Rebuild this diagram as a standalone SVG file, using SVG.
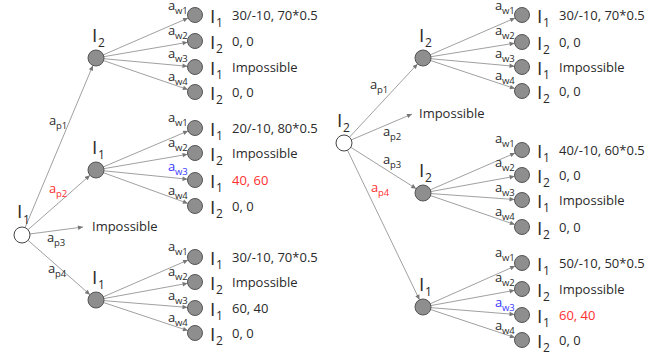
<svg xmlns="http://www.w3.org/2000/svg" width="670" height="358" viewBox="0 0 670 358">
<defs>
<marker id="ah" viewBox="0 0 10 10" refX="10" refY="5" markerWidth="6" markerHeight="5" markerUnits="userSpaceOnUse" orient="auto"><path d="M0,0.5 L10,5 L0,9.5 z" fill="#777"/></marker>
<style>
.ln{stroke:#888;stroke-width:0.8;fill:none;marker-end:url(#ah)}
.nd{fill:#8e8e8e;stroke:#555;stroke-width:1}
.rt{fill:#fff;stroke:#444;stroke-width:1}
text{font-family:"Open Sans","Noto Sans",sans-serif;fill:#2a2a2a}
.v{font-size:13px}
.I{font-size:19px}
.s{font-size:12px}
.a{font-size:13px}
.as{font-size:9.5px}
.red{fill:#ff3030}
.blue{fill:#3535ff}
</style>
</defs>
<g id="connectors">
<line class="ln" x1="22" y1="235" x2="92.9" y2="65.4"/>
<line class="ln" x1="22" y1="235" x2="90" y2="175.3"/>
<line class="ln" x1="22" y1="235" x2="83" y2="227"/>
<line class="ln" x1="22" y1="235" x2="90" y2="294.7"/>
<line class="ln" x1="96" y1="58" x2="188.1" y2="18"/>
<line class="ln" x1="96" y1="58" x2="187.6" y2="42.3"/>
<line class="ln" x1="96" y1="58" x2="187.5" y2="66.3"/>
<line class="ln" x1="96" y1="58" x2="187.9" y2="89.6"/>
<line class="ln" x1="96" y1="170" x2="188.1" y2="130.9"/>
<line class="ln" x1="96" y1="170" x2="187.6" y2="154.3"/>
<line class="ln" x1="96" y1="170" x2="187.5" y2="179.2"/>
<line class="ln" x1="96" y1="170" x2="187.9" y2="203.4"/>
<line class="ln" x1="96" y1="300" x2="188.1" y2="260"/>
<line class="ln" x1="96" y1="300" x2="187.6" y2="283.3"/>
<line class="ln" x1="96" y1="300" x2="187.5" y2="307.4"/>
<line class="ln" x1="96" y1="300" x2="187.9" y2="330.6"/>
<line class="ln" x1="344" y1="143" x2="417.6" y2="63.9"/>
<line class="ln" x1="344" y1="143" x2="412" y2="114"/>
<line class="ln" x1="344" y1="143" x2="416.2" y2="188.7"/>
<line class="ln" x1="344" y1="143" x2="419.5" y2="299.8"/>
<line class="ln" x1="423" y1="58" x2="515.1" y2="18"/>
<line class="ln" x1="423" y1="58" x2="514.6" y2="43.2"/>
<line class="ln" x1="423" y1="58" x2="514.5" y2="66.3"/>
<line class="ln" x1="423" y1="58" x2="514.9" y2="88.6"/>
<line class="ln" x1="423" y1="193" x2="515.1" y2="153"/>
<line class="ln" x1="423" y1="193" x2="514.6" y2="176.3"/>
<line class="ln" x1="423" y1="193" x2="514.5" y2="199.5"/>
<line class="ln" x1="423" y1="193" x2="514.9" y2="224.6"/>
<line class="ln" x1="423" y1="307" x2="515.1" y2="266"/>
<line class="ln" x1="423" y1="307" x2="514.6" y2="290.3"/>
<line class="ln" x1="423" y1="307" x2="514.5" y2="314.4"/>
<line class="ln" x1="423" y1="307" x2="514.9" y2="337.6"/>
<text class="a" x="49" y="125">a</text><text class="as" x="56" y="129">p1</text>
<text class="a red" x="49" y="193">a</text><text class="as red" x="56" y="197">p2</text>
<text class="a" x="47" y="242">a</text><text class="as" x="54" y="246">p3</text>
<text class="a" x="48" y="273">a</text><text class="as" x="55" y="277">p4</text>
<text class="a" x="370" y="89">a</text><text class="as" x="377" y="93">p1</text>
<text class="a" x="383" y="136">a</text><text class="as" x="390" y="140">p2</text>
<text class="a" x="383" y="164">a</text><text class="as" x="390" y="168">p3</text>
<text class="a red" x="371" y="192">a</text><text class="as red" x="378" y="196">p4</text>
<text class="a" x="168" y="10">a</text><text class="as" x="175" y="14">w1</text>
<text class="a" x="168" y="35">a</text><text class="as" x="175" y="39">w2</text>
<text class="a" x="168" y="58">a</text><text class="as" x="175" y="62">w3</text>
<text class="a" x="168" y="81">a</text><text class="as" x="175" y="85">w4</text>
<text class="a" x="168" y="122">a</text><text class="as" x="175" y="126">w1</text>
<text class="a" x="168" y="147">a</text><text class="as" x="175" y="151">w2</text>
<text class="a blue" x="168" y="171">a</text><text class="as blue" x="175" y="175">w3</text>
<text class="a" x="168" y="195">a</text><text class="as" x="175" y="199">w4</text>
<text class="a" x="168" y="251">a</text><text class="as" x="175" y="255">w1</text>
<text class="a" x="168" y="276">a</text><text class="as" x="175" y="280">w2</text>
<text class="a" x="168" y="300">a</text><text class="as" x="175" y="304">w3</text>
<text class="a" x="168" y="322">a</text><text class="as" x="175" y="326">w4</text>
<text class="a" x="495" y="10">a</text><text class="as" x="502" y="14">w1</text>
<text class="a" x="495" y="35">a</text><text class="as" x="502" y="39">w2</text>
<text class="a" x="495" y="58">a</text><text class="as" x="502" y="62">w3</text>
<text class="a" x="495" y="80">a</text><text class="as" x="502" y="84">w4</text>
<text class="a" x="495" y="143">a</text><text class="as" x="502" y="147">w1</text>
<text class="a" x="495" y="167">a</text><text class="as" x="502" y="171">w2</text>
<text class="a" x="495" y="192">a</text><text class="as" x="502" y="196">w3</text>
<text class="a" x="495" y="216">a</text><text class="as" x="502" y="220">w4</text>
<text class="a" x="495" y="257">a</text><text class="as" x="502" y="261">w1</text>
<text class="a" x="495" y="282">a</text><text class="as" x="502" y="286">w2</text>
<text class="a blue" x="495" y="307">a</text><text class="as blue" x="502" y="311">w3</text>
<text class="a" x="495" y="330">a</text><text class="as" x="502" y="334">w4</text>
</g>
<g id="L-root"><circle class="rt" cx="22" cy="235" r="8"/><text class="I" x="17" y="218">I</text><text class="s" x="23" y="224">1</text></g>
<g id="L-impossible"><text class="v" x="92" y="231">Impossible</text></g>
<g id="L-A"><circle class="nd" cx="96" cy="58" r="8"/><text class="I" x="92" y="42">I</text><text class="s" x="98" y="47">2</text></g>
<g id="L-B"><circle class="nd" cx="96" cy="170" r="8"/><text class="I" x="92" y="154">I</text><text class="s" x="98" y="159">1</text></g>
<g id="L-C"><circle class="nd" cx="96" cy="300" r="8"/><text class="I" x="92" y="284">I</text><text class="s" x="98" y="289">1</text></g>
<g id="L-A1"><circle class="nd" cx="195" cy="15" r="7.5"/><text class="I" x="210" y="23">I</text><text class="s" x="216" y="27">1</text><text class="v" x="232" y="20">30/-10, 70*0.5</text></g>
<g id="L-A2"><circle class="nd" cx="195" cy="41" r="7.5"/><text class="I" x="210" y="49">I</text><text class="s" x="216" y="53">2</text><text class="v" x="232" y="46">0, 0</text></g>
<g id="L-A3"><circle class="nd" cx="195" cy="67" r="7.5"/><text class="I" x="210" y="75">I</text><text class="s" x="216" y="79">1</text><text class="v" x="232" y="72">Impossible</text></g>
<g id="L-A4"><circle class="nd" cx="195" cy="92" r="7.5"/><text class="I" x="210" y="100">I</text><text class="s" x="216" y="104">2</text><text class="v" x="232" y="97">0, 0</text></g>
<g id="L-B1"><circle class="nd" cx="195" cy="128" r="7.5"/><text class="I" x="210" y="136">I</text><text class="s" x="216" y="140">1</text><text class="v" x="232" y="133">20/-10, 80*0.5</text></g>
<g id="L-B2"><circle class="nd" cx="195" cy="153" r="7.5"/><text class="I" x="210" y="161">I</text><text class="s" x="216" y="165">2</text><text class="v" x="232" y="158">Impossible</text></g>
<g id="L-B3"><circle class="nd" cx="195" cy="180" r="7.5"/><text class="I" x="210" y="188">I</text><text class="s" x="216" y="192">1</text><text class="v red" x="232" y="185">40, 60</text></g>
<g id="L-B4"><circle class="nd" cx="195" cy="206" r="7.5"/><text class="I" x="210" y="214">I</text><text class="s" x="216" y="218">2</text><text class="v" x="232" y="211">0, 0</text></g>
<g id="L-C1"><circle class="nd" cx="195" cy="257" r="7.5"/><text class="I" x="210" y="265">I</text><text class="s" x="216" y="269">1</text><text class="v" x="232" y="262">30/-10, 70*0.5</text></g>
<g id="L-C2"><circle class="nd" cx="195" cy="282" r="7.5"/><text class="I" x="210" y="290">I</text><text class="s" x="216" y="294">2</text><text class="v" x="232" y="287">Impossible</text></g>
<g id="L-C3"><circle class="nd" cx="195" cy="308" r="7.5"/><text class="I" x="210" y="316">I</text><text class="s" x="216" y="320">1</text><text class="v" x="232" y="313">60, 40</text></g>
<g id="L-C4"><circle class="nd" cx="195" cy="333" r="7.5"/><text class="I" x="210" y="341">I</text><text class="s" x="216" y="345">2</text><text class="v" x="232" y="338">0, 0</text></g>
<g id="R-root"><circle class="rt" cx="344" cy="143" r="8"/><text class="I" x="337" y="127">I</text><text class="s" x="343" y="132">2</text></g>
<g id="R-impossible"><text class="v" x="419" y="118">Impossible</text></g>
<g id="R-D"><circle class="nd" cx="423" cy="58" r="8"/><text class="I" x="419" y="42">I</text><text class="s" x="425" y="47">2</text></g>
<g id="R-E"><circle class="nd" cx="423" cy="193" r="8"/><text class="I" x="419" y="177">I</text><text class="s" x="425" y="182">2</text></g>
<g id="R-F"><circle class="nd" cx="423" cy="307" r="8"/><text class="I" x="419" y="291">I</text><text class="s" x="425" y="296">1</text></g>
<g id="R-D1"><circle class="nd" cx="522" cy="15" r="7.5"/><text class="I" x="537" y="23">I</text><text class="s" x="543" y="27">1</text><text class="v" x="559" y="20">30/-10, 70*0.5</text></g>
<g id="R-D2"><circle class="nd" cx="522" cy="42" r="7.5"/><text class="I" x="537" y="50">I</text><text class="s" x="543" y="54">2</text><text class="v" x="559" y="47">0, 0</text></g>
<g id="R-D3"><circle class="nd" cx="522" cy="67" r="7.5"/><text class="I" x="537" y="75">I</text><text class="s" x="543" y="79">1</text><text class="v" x="559" y="72">Impossible</text></g>
<g id="R-D4"><circle class="nd" cx="522" cy="91" r="7.5"/><text class="I" x="537" y="99">I</text><text class="s" x="543" y="103">2</text><text class="v" x="559" y="96">0, 0</text></g>
<g id="R-E1"><circle class="nd" cx="522" cy="150" r="7.5"/><text class="I" x="537" y="158">I</text><text class="s" x="543" y="162">1</text><text class="v" x="559" y="155">40/-10, 60*0.5</text></g>
<g id="R-E2"><circle class="nd" cx="522" cy="175" r="7.5"/><text class="I" x="537" y="183">I</text><text class="s" x="543" y="187">2</text><text class="v" x="559" y="180">0, 0</text></g>
<g id="R-E3"><circle class="nd" cx="522" cy="200" r="7.5"/><text class="I" x="537" y="208">I</text><text class="s" x="543" y="212">1</text><text class="v" x="559" y="205">Impossible</text></g>
<g id="R-E4"><circle class="nd" cx="522" cy="227" r="7.5"/><text class="I" x="537" y="235">I</text><text class="s" x="543" y="239">2</text><text class="v" x="559" y="232">0, 0</text></g>
<g id="R-F1"><circle class="nd" cx="522" cy="263" r="7.5"/><text class="I" x="537" y="271">I</text><text class="s" x="543" y="275">1</text><text class="v" x="559" y="268">50/-10, 50*0.5</text></g>
<g id="R-F2"><circle class="nd" cx="522" cy="289" r="7.5"/><text class="I" x="537" y="297">I</text><text class="s" x="543" y="301">2</text><text class="v" x="559" y="294">Impossible</text></g>
<g id="R-F3"><circle class="nd" cx="522" cy="315" r="7.5"/><text class="I" x="537" y="323">I</text><text class="s" x="543" y="327">1</text><text class="v red" x="559" y="320">60, 40</text></g>
<g id="R-F4"><circle class="nd" cx="522" cy="340" r="7.5"/><text class="I" x="537" y="348">I</text><text class="s" x="543" y="352">2</text><text class="v" x="559" y="345">0, 0</text></g>
</svg>
